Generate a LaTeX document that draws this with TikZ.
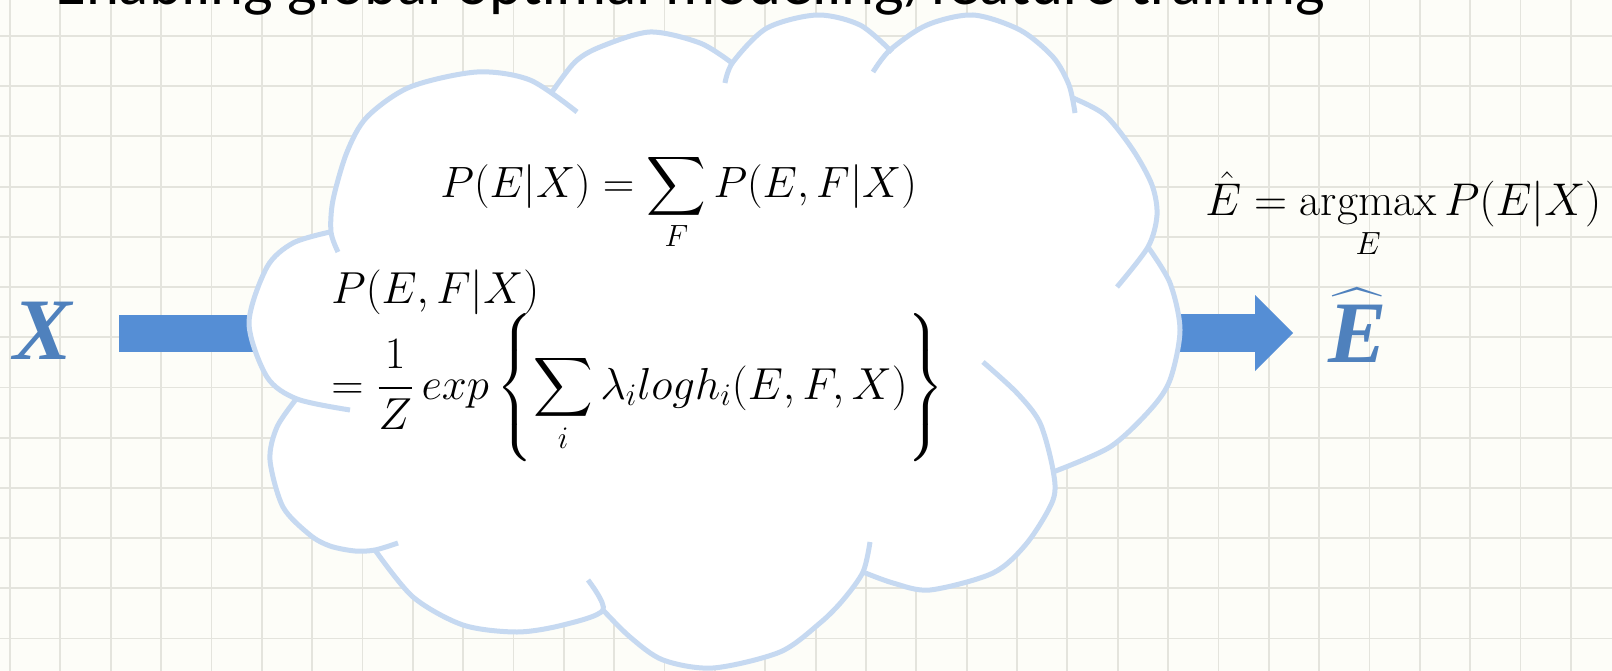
\RequirePackage{fix-cm}
\documentclass[tikz,border=0pt]{standalone}
\usepackage{amsmath}
\usepackage{fontspec}
\newfontfamily\titlefont{Carlito}
\newfontfamily\varfont{Liberation Serif}
\usepackage{xcolor}
\usepackage{tikz}
\usetikzlibrary{positioning,arrows.meta}

\definecolor{paper}{HTML}{FDFDF8}
\definecolor{gridgray}{HTML}{E4E4DD}
\definecolor{cloudblue}{HTML}{C6D9F1}
\definecolor{flowblue}{HTML}{558ED5}
\definecolor{varblue}{HTML}{4F81BD}

\begin{document}
\begin{tikzpicture}[x=0.5bp, y=-0.5bp,
    every node/.style={inner sep=0pt, anchor=base west},
    puff/.style={draw=cloudblue, line width=2.5bp},
    flowbar/.style={draw=flowblue, line width=18.5bp},
    flowhead/.style={draw=flowblue, line width=19bp,
      -{Triangle[length=19bp, width=38bp, line width=0pt]}},
    bigvar/.style={text=varblue, font=\varfont\bfseries\itshape\fontsize{44}{50}\selectfont},
    eqbig/.style={font=\fontsize{22}{27}\selectfont},
    eqmid/.style={font=\fontsize{22.5}{27}\selectfont},
    eqsmall/.style={font=\fontsize{23}{27}\selectfont}]

  \useasboundingbox (0,0) rectangle (1612,671);
  \fill[paper] (0,0) rectangle (1612,671);
  \foreach \k in {0,...,31}
    \draw[gridgray, line width=0.9bp] ({10+50.35*\k},0) -- ({10+50.35*\k},671);
  \foreach \k in {0,...,12}
    \draw[gridgray, line width=0.9bp] (0,{36+50.2*\k}) -- (1612,{36+50.2*\k});

  \node[font=\titlefont\fontsize{31.5}{37}\selectfont] (title) at (55,5)
      {Enabling global optimal modeling/feature training};

  \node[bigvar] (xin) at (13,359) {X};
  \node[bigvar] (ehat) at (1328,362) {$\widehat{\text{E}}$};

  \coordinate (cloudin) at (420,333);
  \coordinate (cloudout) at (1080,333);
  \draw[flowbar, shorten <=23.5bp] (xin.east |- cloudin) -- (cloudin);
  \draw[flowhead, shorten >=17.5bp] (cloudout) -- (ehat.west |- cloudout);

  % cloud body
  \fill[white]
    plot[smooth] coordinates {(338,252) (331,232) (333,200) (347,152) (367,117) (410,87) (477,72) (530,80) (577,112)}
    -- plot[smooth] coordinates {(552,92) (575,62) (600,47) (650,32) (700,43) (732,63)}
    -- plot[smooth] coordinates {(725,83) (733,62) (767,28) (817,15) (860,25) (892,52)}
    -- plot[smooth] coordinates {(873,72) (890,50) (927,25) (973,15) (1020,30) (1053,57) (1069,85) (1075,113)}
    -- plot[smooth] coordinates {(1073,98) (1105,115) (1133,150) (1152,185) (1157,215) (1148,247) (1117,287)}
    -- plot[smooth] coordinates {(1148,247) (1170,283) (1180,330) (1170,380) (1150,410) (1110,447) (1053,472)}
    -- plot[smooth] coordinates {(983,362) (1017,393) (1040,423) (1053,470) (1053,500) (1027,543) (993,573) (930,590) (893,583) (863,572)}
    -- plot[smooth] coordinates {(870,542) (863,572) (843,600) (820,623) (780,652) (713,668) (663,660) (630,637) (603,610)}
    -- plot[smooth] coordinates {(588,580) (603,610) (563,625) (517,632) (463,625) (413,597) (375,550)}
    -- plot[smooth] coordinates {(398,543) (375,550) (355,551) (330,546) (310,535) (283,507) (270,460) (277,427) (297,398)}
    -- plot[smooth] coordinates {(350,410) (297,399) (267,377) (249,323) (267,267) (293,243) (330,232)}
    -- cycle;

  % cloud puffs
  \draw[puff] plot[smooth] coordinates {(338,252) (331,232) (333,200) (347,152) (367,117) (410,87) (477,72) (530,80) (577,112)};
  \draw[puff] plot[smooth] coordinates {(552,92) (575,62) (600,47) (650,32) (700,43) (732,63)};
  \draw[puff] plot[smooth] coordinates {(725,83) (733,62) (767,28) (817,15) (860,25) (892,52)};
  \draw[puff] plot[smooth] coordinates {(873,72) (890,50) (927,25) (973,15) (1020,30) (1053,57) (1069,85) (1075,113)};
  \draw[puff] plot[smooth] coordinates {(1073,98) (1105,115) (1133,150) (1152,185) (1157,215) (1148,247) (1117,287)};
  \draw[puff] plot[smooth] coordinates {(1148,247) (1170,283) (1180,330) (1170,380) (1150,410) (1110,447) (1053,472)};
  \draw[puff] plot[smooth] coordinates {(983,362) (1017,393) (1040,423) (1053,470) (1053,500) (1027,543) (993,573) (930,590) (893,583) (863,572)};
  \draw[puff] plot[smooth] coordinates {(870,542) (863,572) (843,600) (820,623) (780,652) (713,668) (663,660) (630,637) (603,610)};
  \draw[puff] plot[smooth] coordinates {(588,580) (603,610) (563,625) (517,632) (463,625) (413,597) (375,550)};
  \draw[puff] plot[smooth] coordinates {(398,543) (375,550) (355,551) (330,546) (310,535) (283,507) (270,460) (277,427) (297,398)};
  \draw[puff] plot[smooth] coordinates {(350,410) (297,399) (267,377) (249,323) (267,267) (293,243) (330,232)};

  \node[eqbig] (sumeq) at (440,197)
      {$\displaystyle P(E|X) = \sum_{F} P(E,F|X)$};
  \node[eqmid] (jointeq) at (331,303) {$P(E,F|X)$};
  \node[eqmid] (expeq) at (331,399)
      {$\displaystyle = \frac{1}{Z}\, exp\left\{\sum_{i} \lambda_i logh_i(E,F,X)\vphantom{\sum_{i_i}}\right\}$};
  \node[eqsmall] (argmaxeq) at (1205,215)
      {$\displaystyle \hat{E} = \operatorname*{argmax}_{E} P(E|X)$};
\end{tikzpicture}
\end{document}
